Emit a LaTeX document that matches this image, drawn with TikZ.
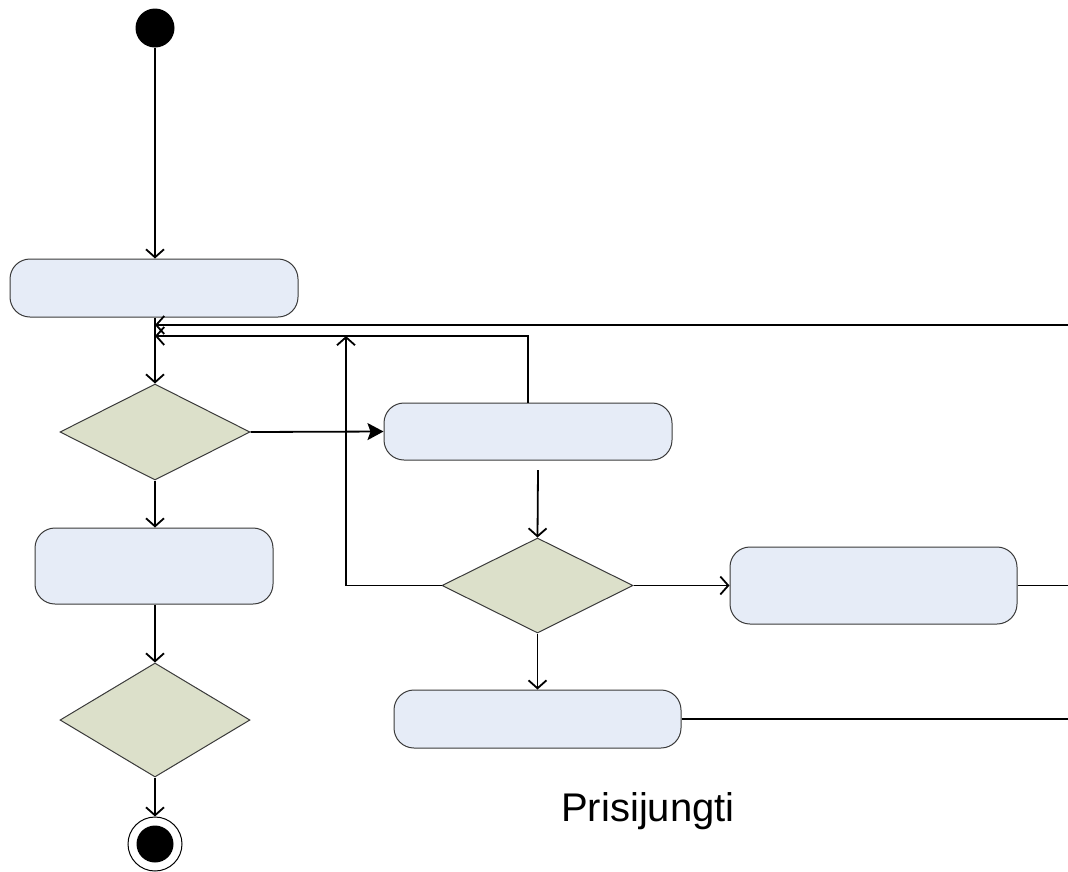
\documentclass[tikz,border=0pt]{standalone}
\usepackage{fontspec}
\setmainfont{Liberation Sans}
\usetikzlibrary{shapes.geometric,arrows.meta}
\definecolor{actfill}{HTML}{E6ECF7}
\definecolor{decfill}{HTML}{DCE0CA}
\definecolor{edge}{HTML}{3A3A3A}
\tikzset{
  activity/.style={draw=edge,line width=1pt,fill=actfill,rounded corners=20pt,inner sep=0pt},
  decision/.style={diamond,draw=edge,line width=1pt,fill=decfill,inner sep=0pt},
  flow/.style={line width=1.8pt,-{Straight Barb[length=8pt,width=18pt,line width=1.8pt]}},
  solidflow/.style={line width=1.8pt,-{Stealth[length=16pt,width=17pt,inset=3pt]}},
  plain/.style={line width=1.8pt}
}
\begin{document}
\begin{tikzpicture}[x=1pt,y=-1pt]
\useasboundingbox (0,0) rectangle (1068,871);

% initial and final states
\node (start) [circle,fill=black,minimum size=39pt,inner sep=0pt] at (155,28) {};
\node (final) [circle,draw=black,line width=1pt,fill=white,minimum size=54pt,inner sep=0pt] at (155,844) {};
\node (finaldot) [circle,fill=black,minimum size=37pt,inner sep=0pt] at (155,844) {};

% activities
\node (a1) [activity,minimum width=288pt,minimum height=58pt] at (154,288) {};
\node (a2) [activity,minimum width=238pt,minimum height=76pt] at (154,566) {};
\node (a3) [activity,minimum width=288pt,minimum height=57pt] at (528,431.5) {};
\node (a4) [activity,minimum width=287pt,minimum height=77pt] at (873.5,585.5) {};
\node (a5) [activity,minimum width=287pt,minimum height=58pt] at (537.5,719) {};

% decisions
\node (d1) [decision,minimum width=190pt,minimum height=96pt] at (155,432) {};
\node (d2) [decision,minimum width=190pt,minimum height=114pt] at (155,720) {};
\node (d3) [decision,minimum width=191pt,minimum height=95pt] at (537.5,585.5) {};

% junction points and free ends
\coordinate (j1) at (155,325);
\coordinate (j2) at (155,336);
\coordinate (r1) at (1068,325);
\coordinate (r4) at (1068,585.5);
\coordinate (r5) at (1068,719);
\coordinate (up) at (346,336);
\coordinate (d3in) at (538,470);

% main flow
\draw[flow] (start.south) -- (a1.north -| start);
\draw[flow] (a1.south -| d1) -- (d1.north);
\draw[solidflow] (d1.east) -- (a3.west);
\draw[flow] (d1.south) -- (d1.south |- a2.north);
\draw[flow] (d1.south |- a2.south) -- (d2.north);
\draw[flow] (d2.south) -- (final.north);

% loop-backs
\draw[flow] (r1) -- (j1);
\draw[flow] (a3.north) |- (j2);
\draw[flow] (d3.west) -| (up);

% second branch
\draw[flow] (d3in) -- (d3.north);
\draw[flow] (d3.east) -- (a4.west);
\draw[flow] (d3.south) -- (d3.south |- a5.north);
\draw[plain] (a4.east) -- (r4);
\draw[plain] (a5.east) -- (r5);

\node (title) [anchor=base,inner sep=0pt,font=\fontsize{40}{48}\selectfont] at (648,821) {Prisijungti};
\end{tikzpicture}
\end{document}
